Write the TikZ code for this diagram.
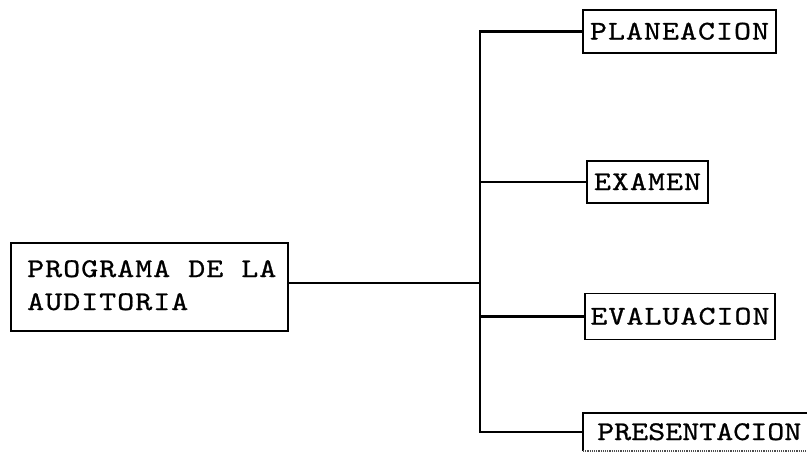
\documentclass[tikz,border=0pt]{standalone}
\usepackage{fontspec}
\setmainfont{lmmono10-regular}[Extension=.otf, FakeStretch=1.2, LetterSpace=3.7, FakeBold=0.8]
\newfontfamily\presfont{lmmono10-regular}[Extension=.otf, FakeStretch=1.2, LetterSpace=0.0, FakeBold=0.8]
\begin{document}
\begin{tikzpicture}[x=1pt,y=-1pt,
  every node/.style={font=\fontsize{27}{33}\selectfont, inner sep=0pt},
  box/.style={draw=black, line width=1.6pt, text height=16pt, text depth=0pt},
  conn/.style={draw=black, line width=2.4pt}]
\useasboundingbox (0,0) rectangle (807,455);
\clip (0,0) rectangle (807,455);
% main box
\node[box, anchor=north west, minimum width=277pt, minimum height=88pt] (main) at (10,242) {};
\node[anchor=base west, align=left] (maintext) at (27,310) {PROGRAMA DE LA\\AUDITORIA};
% right boxes
\node[box, minimum width=193pt, minimum height=43pt] (plan) at (679.5,31.5) {PLANEACION};
\node[box, minimum width=121pt, minimum height=42pt] (exam) at (647.5,182) {EXAMEN};
\node[box, minimum width=190pt, minimum height=46pt] (eval) at (680,316.5) {EVALUACION};
\node[anchor=west, minimum height=38pt, text height=16pt, text depth=0pt, inner xsep=14pt, font=\presfont\fontsize{27}{33}\selectfont] (pres) at (583,432) {PRESENTACION};
\draw[line width=1.6pt] (583,451) -- (583,413) -- (810,413);
\draw[line width=1.2pt, densely dotted, black!70] (583,451) -- (810,451);
% connectors
\coordinate (j) at (480,283);
\draw[conn] (j -| main.east) -- (j);
\draw[conn] (plan.west) -- (plan.west -| j) -- (pres.west -| j) -- (pres.west);
\draw[conn] (exam.west -| j) -- (exam.west);
\draw[conn] (eval.west -| j) -- (eval.west);
\end{tikzpicture}
\end{document}
